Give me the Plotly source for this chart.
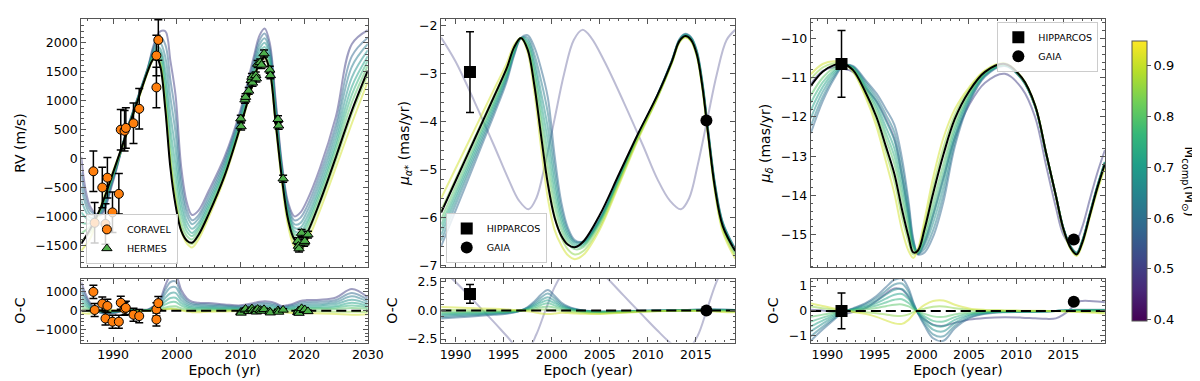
import plotly.graph_objects as go
from plotly.colors import sample_colorscale

# companion mass of each sampled orbit (one line per orbit in every panel)
MASS = [0.50, 0.58, 0.63, 0.67, 0.71, 0.75, 0.80, 0.85, 0.91]
C_MIN, C_MAX = 0.397, 0.948

# ---- radial velocity: best orbit and residuals of the other orbits ----
RV_T = [1985, 1986.5, 1988, 1990, 1992, 1994, 1995.5, 1996.2, 1996.8, 1997.4, 1998.2, 1999.0,
        1999.8, 2000.7, 2001.6, 2002.4, 2003.4, 2005, 2007.5, 2010, 2012, 2013, 2013.8, 2014.6,
        2015.5, 2016.5, 2017.5, 2018.5, 2019.4, 2020.4, 2022.5, 2025, 2027.5, 2030]
RV_BEST = [-1470, -1200, -860, -240, 400, 1050, 1530, 1700, 1750, 1600, 850, -163,
           -800, -1250, -1420, -1455, -1320, -960, -300, 560, 1320, 1660, 1750, 1520,
           650, -330, -1062, -1399, -1455, -1300, -740, 30, 830, 1520]
RV_RES = [
    [1500, 350, -120, -150, 40, 50, 60, 200, 350, 600, 1350, 1850, 1900, 1100, 650, 480, 420, 400, 330, 280, 400, 470, 500, 480, 400, 250, 300, 400, 520, 560, 580, 700, 1150, 700],
    [1230, 290, -100, -120, 30, 40, 50, 170, 290, 500, 1120, 1520, 1560, 900, 530, 390, 340, 330, 270, 230, 330, 390, 410, 390, 330, 200, 250, 330, 430, 460, 480, 570, 940, 570],
    [990, 230, -80, -100, 25, 30, 40, 140, 240, 400, 900, 1220, 1250, 730, 430, 320, 280, 260, 220, 185, 260, 310, 330, 320, 260, 165, 200, 260, 340, 370, 380, 460, 760, 460],
    [750, 175, -60, -75, 20, 25, 30, 110, 180, 300, 680, 925, 950, 550, 325, 240, 210, 200, 165, 140, 200, 235, 250, 240, 200, 125, 150, 200, 260, 280, 290, 350, 575, 350],
    [540, 125, -45, -55, 15, 18, 22, 80, 140, 240, 490, 670, 685, 400, 235, 170, 150, 145, 120, 100, 145, 170, 180, 175, 145, 90, 110, 145, 185, 200, 210, 250, 415, 250],
    [360, 85, -30, -35, 10, 12, 15, 55, 100, 170, 330, 445, 455, 265, 155, 115, 100, 95, 80, 65, 95, 115, 120, 115, 95, 60, 70, 95, 125, 135, 140, 170, 275, 170],
    [180, 40, -15, -20, 5, 6, 8, 30, 55, 90, 165, 220, 230, 130, 80, 58, 50, 48, 40, 34, 48, 56, 60, 58, 48, 30, 36, 48, 62, 67, 70, 84, 140, 84],
    [40, -60, 0, -20, -15, -10, -5, 10, 20, 40, 80, 110, 100, 40, 0, -20, -20, -10, 0, 0, 10, 20, 20, 10, 0, -30, -40, -40, -30, -30, -40, -60, -60, -70],
    [-120, -160, 20, 30, -30, -25, -20, -10, 0, 20, 60, 90, 60, 0, -50, -80, -80, -60, -40, -30, -20, -20, -20, -30, -50, -80, -110, -130, -130, -140, -150, -180, -220, -190],
]

CORAVEL_T = [1986.9, 1987.1, 1988.3, 1988.8, 1989.1, 1989.9, 1990.9, 1991.2,
             1991.8, 1992.0, 1993.2, 1994.1, 1996.8, 1996.8, 1997.1]
CORAVEL_RV = [-220, -1110, -500, -1130, -330, -930, -610, 500, 480, 530, 610, 860, 1230, 1780, 2050]
CORAVEL_OC = [1000, 35, 370, -420, 250, -590, -590, 420, 100, 150, -220, -290, -475, 70, 400]
CORAVEL_ERR = [350] * 15

HERMES_T = [2010.05, 2010.1, 2010.7, 2010.8, 2011.3, 2011.7, 2011.8, 2011.9, 2012.4,
            2012.5, 2012.7, 2013.1, 2013.3, 2013.7, 2014.6, 2014.7, 2015.9, 2016.0,
            2016.7, 2019.0, 2019.1, 2019.2, 2019.6, 2020.0, 2020.1, 2020.6]
HERMES_RV = [690, 555, 1017, 1062, 1170, 1354, 1410, 1309, 1438, 1382, 1635, 1663, 1618,
             1815, 1534, 1438, 680, 567, -348, -1427, -1511, -1556, -1287, -1455, -1427, -1315]
HERMES_OC = [-80, -120, 40, 90, -30, 60, 110, -40, 20, -60, 80, 30, -20, 70, -50, -110,
             10, -70, 40, -90, -20, -130, 120, 20, 60, -40]
HERMES_ERR = [60] * 26

# ---- proper motion in RA ----
PMRA_T = [1988.5, 1990, 1992, 1994, 1995.3, 1996.1, 1996.8, 1997.5, 1998.2, 1998.9, 1999.6,
          2000.3, 2001.0, 2001.7, 2002.4, 2003.3, 2005, 2007, 2009, 2011, 2012.5, 2013.3,
          2013.9, 2014.5, 2015.1, 2015.7, 2016.3, 2017.0, 2017.8, 2019.1]
PMRA_BEST = [-5.9, -5.24, -4.36, -3.48, -2.9, -2.45, -2.26, -2.5, -3.25, -4.3, -5.3,
             -6.0, -6.38, -6.57, -6.62, -6.5, -5.95, -5.1, -4.25, -3.45, -2.75, -2.32,
             -2.22, -2.3, -2.6, -3.3, -4.3, -5.4, -6.18, -6.7]
PMRA_RES = [  # orbits MASS[1:]
    [-0.7, -0.62, -0.5, -0.38, -0.28, -0.17, 0.0, 0.3, 0.8, 1.4, 1.8, 1.3, 0.7, 0.35, 0.15, 0.0, -0.1, -0.08, -0.04, 0, 0.02, 0.04, 0.05, 0.06, 0.08, 0.1, 0.1, 0.1, 0.08, 0.05],
    [-0.58, -0.5, -0.41, -0.31, -0.23, -0.14, 0.0, 0.25, 0.65, 1.15, 1.48, 1.07, 0.57, 0.29, 0.12, 0.0, -0.08, -0.07, -0.03, 0, 0.02, 0.03, 0.04, 0.05, 0.07, 0.08, 0.08, 0.08, 0.07, 0.04],
    [-0.46, -0.4, -0.33, -0.25, -0.18, -0.11, 0.0, 0.2, 0.52, 0.9, 1.17, 0.85, 0.45, 0.23, 0.1, -0.02, -0.1, -0.08, -0.04, -0.01, 0.01, 0.02, 0.03, 0.04, 0.05, 0.06, 0.06, 0.06, 0.05, 0.03],
    [-0.35, -0.31, -0.25, -0.19, -0.14, -0.08, 0.0, 0.15, 0.4, 0.7, 0.9, 0.65, 0.35, 0.17, 0.06, -0.05, -0.12, -0.1, -0.05, -0.02, 0, 0.01, 0.02, 0.03, 0.04, 0.05, 0.05, 0.05, 0.04, 0.02],
    [-0.25, -0.22, -0.18, -0.13, -0.1, -0.06, 0.0, 0.1, 0.28, 0.49, 0.63, 0.45, 0.24, 0.1, 0.02, -0.08, -0.15, -0.12, -0.06, -0.03, -0.01, 0, 0.01, 0.01, 0.02, 0.02, 0.02, 0.02, 0.01, 0],
    [-0.14, -0.12, -0.1, -0.08, -0.06, -0.03, 0.0, 0.06, 0.16, 0.28, 0.36, 0.26, 0.12, 0.03, -0.04, -0.12, -0.18, -0.14, -0.07, -0.04, -0.02, -0.01, -0.01, -0.01, 0, 0, 0, -0.01, -0.03, -0.05],
    [0.05, 0.04, 0.03, 0.02, 0.01, 0, 0.0, 0.01, 0.04, 0.08, 0.1, 0.05, -0.03, -0.1, -0.15, -0.2, -0.25, -0.18, -0.09, -0.05, -0.03, -0.02, -0.02, -0.02, -0.03, -0.03, -0.04, -0.05, -0.07, -0.1],
    [0.3, 0.26, 0.2, 0.15, 0.1, 0.05, 0.0, -0.06, -0.15, -0.25, -0.3, -0.26, -0.2, -0.22, -0.25, -0.28, -0.3, -0.22, -0.12, -0.06, -0.04, -0.03, -0.03, -0.03, -0.04, -0.05, -0.06, -0.08, -0.12, -0.16],
]
# the low-mass orbit (MASS[0]) runs out of phase in RA: curve and its O-C
PMRA_ALT_T = [1988.5, 1990, 1992, 1994, 1995.5, 1996.6, 1997.6, 1998.4, 1999.3, 2000.3, 2001.3,
              2002.3, 2003.2, 2004.1, 2005.5, 2007.5, 2009.5, 2011, 2012.3, 2013.45, 2014.3,
              2015.2, 2016.2, 2017.2, 2018.2, 2019.1]
PMRA_ALT = [-2.25, -2.75, -3.6, -4.5, -5.2, -5.65, -5.83, -5.6, -4.9, -3.95, -3.0,
            -2.3, -2.09, -2.25, -2.75, -3.6, -4.5, -5.2, -5.65, -5.83, -5.6,
            -4.9, -3.95, -3.0, -2.3, -2.09]
PMRA_ALT_OC = [3.65, 2.49, 0.76, -1.02, -2.4, -3.37, -3.28, -2.1, -0.1, 2.05, 3.45,
               4.3, 4.4, 4.0, 3.05, 1.3, -0.45, -1.75, -2.8, -3.5, -3.3,
               -2.2, 0.2, 2.6, 4.1, 4.6]

# ---- proper motion in Dec ----
PMDEC_T = [1988.25, 1989.5, 1990.7, 1991.7, 1992.7, 1994, 1995.2, 1996.2, 1997.1, 1997.9, 1998.6,
           1999.1, 1999.6, 2000.3, 2001.2, 2002.3, 2003.5, 2005, 2006.7, 2008.8, 2010.6, 2012,
           2013.2, 2014.2, 2015.0, 2015.8, 2016.4, 2017.0, 2017.8, 2018.6, 2019.4]
PMDEC_BEST = [-11.21, -10.85, -10.68, -10.65, -10.8, -11.35, -12.0, -12.75, -13.45, -14.35, -15.05,
              -15.45, -15.4, -14.85, -13.95, -12.95, -12.05, -11.35, -10.85, -10.65, -11.0, -11.7,
              -12.95, -14.0, -14.85, -15.35, -15.5, -15.2, -14.5, -13.8, -13.19]
PMDEC_RES = [
    [0.05, 0.02, -0.05, -0.12, -0.05, 0.1, 0.4, 0.7, 0.9, 0.85, 0.55, 0.2, -0.1, -0.35, -0.55, -0.6, -0.48, -0.35, -0.28, -0.25, -0.27, -0.3, -0.32, -0.3, -0.15, 0.1, 0.35, 0.4, 0.4, 0.38, 0.35],
    [-1.2, -0.75, -0.35, -0.05, 0.1, 0.3, 0.6, 0.95, 1.25, 1.3, 0.9, 0.35, -0.1, -0.6, -1.1, -1.2, -0.7, -0.3, -0.12, -0.05, -0.04, -0.03, -0.02, 0, 0.02, 0.04, 0.05, 0.05, 0.05, 0.05, 0.05],
    [-1.02, -0.64, -0.3, -0.04, 0.08, 0.26, 0.51, 0.81, 1.06, 1.1, 0.77, 0.3, -0.08, -0.51, -0.94, -1.02, -0.6, -0.26, -0.1, -0.04, -0.03, -0.03, -0.02, 0, 0.02, 0.03, 0.04, 0.04, 0.04, 0.04, 0.04],
    [-0.82, -0.51, -0.24, -0.03, 0.07, 0.2, 0.41, 0.65, 0.85, 0.88, 0.61, 0.24, -0.07, -0.41, -0.75, -0.82, -0.48, -0.2, -0.08, -0.03, -0.03, -0.02, -0.01, 0, 0.01, 0.03, 0.03, 0.03, 0.03, 0.03, 0.03],
    [-0.62, -0.39, -0.18, -0.03, 0.05, 0.16, 0.31, 0.49, 0.65, 0.68, 0.47, 0.18, -0.05, -0.31, -0.57, -0.62, -0.36, -0.16, -0.06, -0.03, -0.02, -0.02, -0.01, 0, 0.01, 0.02, 0.03, 0.03, 0.03, 0.03, 0.03],
    [-0.43, -0.27, -0.13, -0.02, 0.04, 0.11, 0.22, 0.34, 0.45, 0.47, 0.32, 0.13, -0.04, -0.22, -0.4, -0.43, -0.25, -0.11, -0.04, -0.02, -0.01, -0.01, -0.01, 0, 0.01, 0.01, 0.02, 0.02, 0.02, 0.02, 0.02],
    [-0.24, -0.15, -0.07, -0.01, 0.02, 0.06, 0.12, 0.19, 0.25, 0.26, 0.18, 0.07, -0.02, -0.12, -0.22, -0.24, -0.14, -0.06, -0.02, -0.01, -0.01, -0.01, 0, 0, 0, 0.01, 0.01, 0.01, 0.01, 0.01, 0.01],
    [0.18, 0.11, 0.05, 0.01, -0.02, -0.05, -0.09, -0.14, -0.19, -0.2, -0.14, -0.05, 0.02, 0.09, 0.17, 0.18, 0.11, 0.05, 0.02, 0.01, 0, 0, 0, 0, -0.01, -0.02, -0.02, -0.03, -0.03, -0.04, -0.05],
    [0.3, 0.2, 0.1, 0.02, -0.04, -0.12, -0.24, -0.38, -0.5, -0.52, -0.36, -0.14, 0.04, 0.24, 0.4, 0.42, 0.25, 0.1, 0.04, 0.02, 0.01, 0.01, 0, -0.01, -0.02, -0.03, -0.04, -0.05, -0.06, -0.08, -0.1],
]

HIP_EPOCH, GAIA_EPOCH = 1991.5, 2016.1
PMRA_HIP, PMRA_HIP_ERR, PMRA_HIP_OC, PMRA_HIP_OC_ERR = -2.97, 0.84, 1.45, 0.82
PMRA_GAIA, PMRA_GAIA_OC = -3.98, 0.0
PMDEC_HIP, PMDEC_HIP_ERR, PMDEC_HIP_OC, PMDEC_HIP_OC_ERR = -10.65, 0.85, 0.0, 0.72
PMDEC_GAIA, PMDEC_GAIA_OC = -15.12, 0.37

FONT = "DejaVu Sans"
FRAME = "#555555"


def mass_color(m):
    return sample_colorscale("Viridis", [(m - C_MIN) / (C_MAX - C_MIN)])[0]


fig = go.Figure()


def add_line(x, y, xa, ya, color, width=2, opacity=0.5, dash=None):
    fig.add_trace(go.Scatter(
        x=x, y=y, xaxis=xa, yaxis=ya, mode="lines", showlegend=False,
        hoverinfo="skip", opacity=opacity,
        line=dict(color=color, width=width, shape="spline", smoothing=1.0, dash=dash)))


def add_panel(t, best, residuals, masses, top, bot):
    for res, m in zip(residuals, masses):
        add_line(t, [b + r for b, r in zip(best, res)], top[0], top[1], mass_color(m))
        add_line(t, res, bot[0], bot[1], mass_color(m))
    add_line(t, best, top[0], top[1], "black", opacity=1)
    add_line(t, [b - b for b in best], bot[0], bot[1], "black", opacity=1, dash="10px,5px")


# RV panel
add_panel(RV_T, RV_BEST, RV_RES, MASS, ("x", "y"), ("x2", "y2"))
# RA panel (low-mass orbit drawn separately)
add_line(PMRA_ALT_T, PMRA_ALT, "x3", "y3", mass_color(MASS[0]), opacity=0.35)
add_line(PMRA_ALT_T, PMRA_ALT_OC, "x4", "y4", mass_color(MASS[0]), opacity=0.35)
add_panel(PMRA_T, PMRA_BEST, PMRA_RES, MASS[1:], ("x3", "y3"), ("x4", "y4"))
# Dec panel
add_panel(PMDEC_T, PMDEC_BEST, PMDEC_RES, MASS, ("x5", "y5"), ("x6", "y6"))


def err(arr):
    return dict(type="data", array=arr, color="black", thickness=1.5, width=4)


cor_marker = dict(color="#ff7f0e", size=9, line=dict(color="black", width=1))
her_marker = dict(color="#4daf4a", size=9, symbol="triangle-up", line=dict(color="black", width=1))
for xa, ya, y, show in [("x", "y", CORAVEL_RV, True), ("x2", "y2", CORAVEL_OC, False)]:
    fig.add_trace(go.Scatter(x=CORAVEL_T, y=y, xaxis=xa, yaxis=ya, mode="markers",
                             name="CORAVEL", marker=cor_marker, error_y=err(CORAVEL_ERR),
                             showlegend=show, legend="legend"))
for xa, ya, y, show in [("x", "y", HERMES_RV, True), ("x2", "y2", HERMES_OC, False)]:
    fig.add_trace(go.Scatter(x=HERMES_T, y=y, xaxis=xa, yaxis=ya, mode="markers",
                             name="HERMES", marker=her_marker, error_y=err(HERMES_ERR),
                             showlegend=show, legend="legend"))

hip_marker = dict(color="black", size=12, symbol="square")
gaia_marker = dict(color="black", size=12, symbol="circle")
astro = [
    ("x3", "y3", PMRA_HIP, PMRA_HIP_ERR, PMRA_GAIA, True, "legend2"),
    ("x4", "y4", PMRA_HIP_OC, PMRA_HIP_OC_ERR, PMRA_GAIA_OC, False, "legend2"),
    ("x5", "y5", PMDEC_HIP, PMDEC_HIP_ERR, PMDEC_GAIA, True, "legend3"),
    ("x6", "y6", PMDEC_HIP_OC, PMDEC_HIP_OC_ERR, PMDEC_GAIA_OC, False, "legend3"),
]
for xa, ya, hip, hip_err, gaia, show, leg in astro:
    fig.add_trace(go.Scatter(x=[HIP_EPOCH], y=[hip], xaxis=xa, yaxis=ya, mode="markers",
                             name="HIPPARCOS", marker=hip_marker, error_y=err([hip_err]),
                             showlegend=show, legend=leg))
    fig.add_trace(go.Scatter(x=[GAIA_EPOCH], y=[gaia], xaxis=xa, yaxis=ya, mode="markers",
                             name="GAIA", marker=gaia_marker, showlegend=show, legend=leg))

# colour bar
fig.add_trace(go.Scatter(
    x=[None], y=[None], mode="markers", showlegend=False, hoverinfo="skip",
    marker=dict(color=[C_MIN, C_MAX], cmin=C_MIN, cmax=C_MAX, colorscale="Viridis",
                showscale=True,
                colorbar=dict(x=1129 / 1200, xanchor="left", y=1 - 173.3 / 381, yanchor="middle",
                              len=300, lenmode="pixels", thickness=14.5, thicknessmode="pixels",
                              outlinecolor=FRAME, outlinewidth=1, ticks="outside", ticklen=4,
                              tickcolor=FRAME, tickvals=[0.4, 0.5, 0.6, 0.7, 0.8, 0.9],
                              tickfont=dict(size=13, family=FONT, color="black")))))

axis = dict(showline=True, linecolor=FRAME, linewidth=1.3, mirror="allticks",
            ticks="inside", ticklen=5, tickwidth=1, tickcolor=FRAME,
            showgrid=False, zeroline=False, tickfont=dict(size=12.5, family=FONT, color="black"))


def minor(d):
    return dict(ticks="inside", ticklen=2.5, tickcolor=FRAME, dtick=d, showgrid=False)


XD = [(0.0611, 0.3033), (0.3653, 0.6139), (0.6778, 0.9264)]
Y_TOP = (0.3136, 0.9816)
Y_BOT = (0.1115, 0.2835)
X_RANGES = [(1985, 2030, 10, 2, "Epoch (yr)"), (1988.5, 2019.1, 5, 1, "Epoch (year)"),
            (1988.25, 2019.4, 5, 1, "Epoch (year)")]
Y_TOP_SET = [((-1880, 2415), 500, 100, "RV (m/s)"),
             ((-7.04, -1.86), 1, 0.2, "<i>μ</i><sub><i>α*</i></sub> (mas/yr)"),
             ((-15.83, -9.5), 1, 0.2, "<i>μ</i><sub><i>δ</i></sub> (mas/yr)")]
Y_BOT_SET = [((-1700, 1710), 1000, 200, None), ((-2.8, 2.8), 2.5, 0.5, ".1f"),
             ((-1.27, 1.3), 1, 0.2, None)]
title_font = dict(size=14, family=FONT, color="black")

lay = {}
for i in range(3):
    nt, nb = 2 * i + 1, 2 * i + 2
    kt = "" if nt == 1 else str(nt)
    x0, x1, xd, xm, xlabel = X_RANGES[i]
    yr, yd, ym, ylabel = Y_TOP_SET[i]
    byr, byd, bym, bfmt = Y_BOT_SET[i]
    lay["xaxis" + kt] = dict(axis, domain=XD[i], range=[x0, x1], dtick=xd, tick0=1990,
                             minor=minor(xm), showticklabels=False, anchor="y" + kt,
                             matches="x" + str(nb))
    lay["yaxis" + kt] = dict(axis, domain=Y_TOP, range=list(yr), dtick=yd, tick0=0,
                             minor=minor(ym), anchor="x" + kt,
                             title=dict(text=ylabel, font=title_font, standoff=6))
    lay["xaxis" + str(nb)] = dict(axis, domain=XD[i], range=[x0, x1], dtick=xd, tick0=1990,
                                  minor=minor(xm), anchor="y" + str(nb),
                                  title=dict(text=xlabel, font=title_font, standoff=4))
    lay["yaxis" + str(nb)] = dict(axis, domain=Y_BOT, range=list(byr), dtick=byd, tick0=0,
                                  minor=minor(bym), anchor="x" + str(nb), tickformat=bfmt,
                                  title=dict(text="O-C", font=title_font, standoff=6))

leg_common = dict(bgcolor="rgba(255,255,255,0.8)", bordercolor="#cccccc", borderwidth=1,
                  font=dict(size=9.5, family=FONT, color="black"), tracegroupgap=0,
                  itemwidth=30)
fig.update_layout(
    width=1200, height=381, margin=dict(l=0, r=0, t=0, b=0),
    paper_bgcolor="white", plot_bgcolor="white",
    font=dict(family=FONT, color="black"),
    legend=dict(leg_common, x=78 / 1200, y=1 - 258 / 381, xanchor="left", yanchor="bottom"),
    legend2=dict(leg_common, x=443 / 1200, y=1 - 257 / 381, xanchor="left", yanchor="bottom"),
    legend3=dict(leg_common, x=1105 / 1200, y=1 - 10 / 381, xanchor="right", yanchor="top"),
    # colour-bar label reads top to bottom, as in the original
    annotations=[dict(text="M<sub>comp</sub>(M<sub>⊙</sub>)", x=1197 / 1200, y=1 - 173.3 / 381,
                      xref="paper", yref="paper", xanchor="center", yanchor="middle",
                      showarrow=False, textangle=90,
                      font=dict(size=14, family=FONT, color="black"))],
    **lay,
)

fig.write_html("out.html")
